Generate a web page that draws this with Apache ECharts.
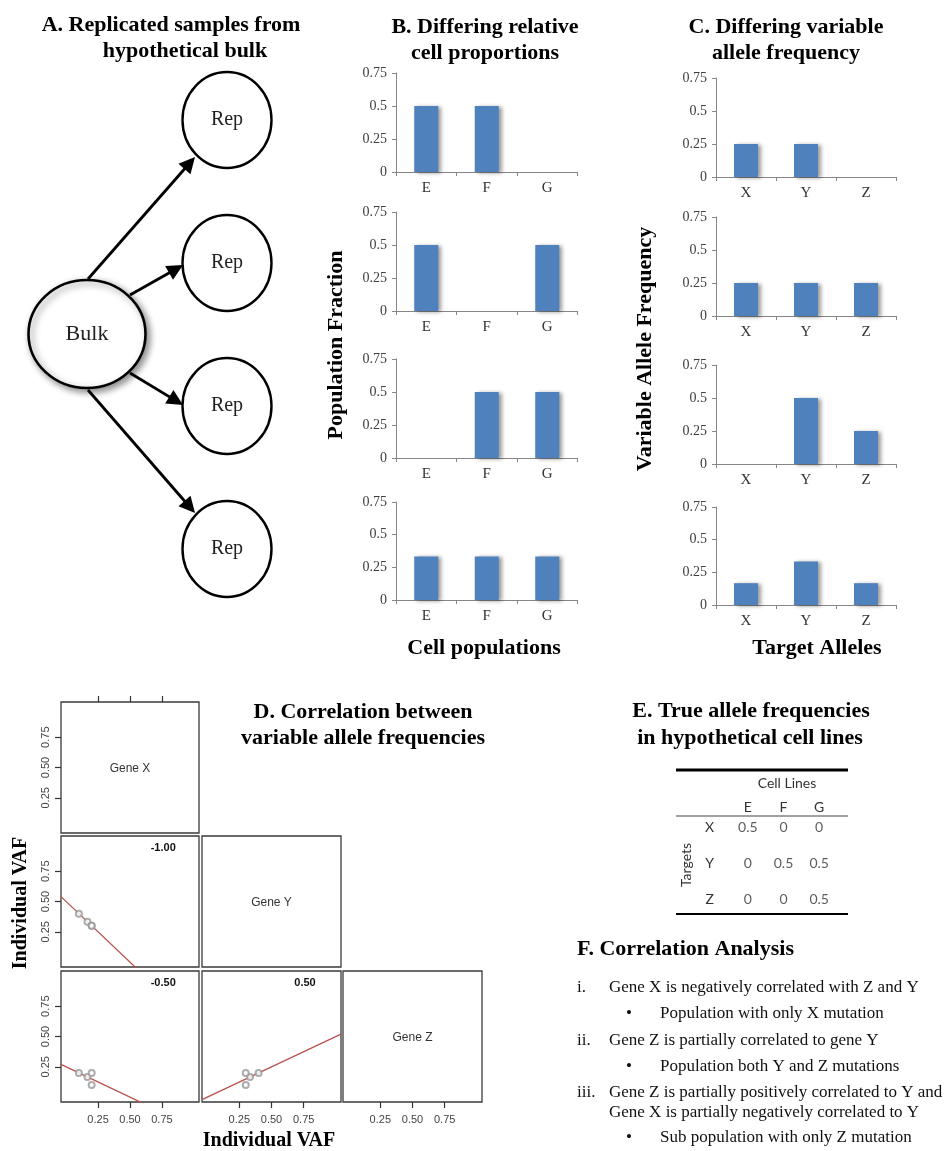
<!DOCTYPE html>
<html><head><meta charset="utf-8">
<script src="https://cdn.jsdelivr.net/npm/echarts@6/dist/echarts.min.js"></script>
<style>html,body{margin:0;padding:0;background:#fff}#c{width:950px;height:1151px}</style>
</head><body><div id="c"></div>
<script>
// ---------------- DATA ----------------
const cellPops = ['E', 'F', 'G'];
const popFractions = [
  [0.5, 0.5, 0],
  [0.5, 0, 0.5],
  [0, 0.5, 0.5],
  [0.333, 0.333, 0.333]
];
const targetAlleles = ['X', 'Y', 'Z'];
const alleleFreqs = [
  [0.25, 0.25, 0],
  [0.25, 0.25, 0.25],
  [0, 0.5, 0.25],
  [0.167, 0.333, 0.167]
];
const barTicks = [0, 0.25, 0.5, 0.75];
const vafTicks = [0.25, 0.5, 0.75];
const geneNames = ['Gene X', 'Gene Y', 'Gene Z'];
const geneX = [0.1, 0.167, 0.2, 0.2];
const geneY = [0.4, 0.333, 0.3, 0.3];
const geneZ = [0.2, 0.167, 0.2, 0.1];
const tableCols = ['E', 'F', 'G'];
const tableRows = ['X', 'Y', 'Z'];
const tableVals = [
  [0.5, 0, 0],
  [0, 0.5, 0.5],
  [0, 0, 0.5]
];
const diagramNodes = ['Bulk', 'Rep', 'Rep', 'Rep', 'Rep'];
const diagramEdges = [[0, 1], [0, 2], [0, 3], [0, 4]];
const analysisItems = [
  { level: 0, marker: 'i.', lines: ['Gene X is negatively correlated with Z and Y'] },
  { level: 1, marker: '\u2022', lines: ['Population with only X mutation'] },
  { level: 0, marker: 'ii.', lines: ['Gene Z is partially correlated to gene Y'] },
  { level: 1, marker: '\u2022', lines: ['Population both Y and Z mutations'] },
  { level: 0, marker: 'iii.', lines: ['Gene Z is partially positively correlated to Y and', 'Gene X is partially negatively correlated to Y'] },
  { level: 1, marker: '\u2022', lines: ['Sub population with only Z mutation'] }
];

// ---------------- LAYOUT ----------------
const SERIF = '"Liberation Serif","Times New Roman",serif';
const SANS = '"Liberation Sans",Arial,sans-serif';
const CAL = 'Lato,"Open Sans",sans-serif';
const BLUE = '#4F81BD';

const grids = [], xAxes = [], yAxes = [], series = [], graphics = [];

function txt(x, y, text, opt) {
  opt = opt || {};
  return {
    type: 'text', x: x, y: y, rotation: opt.rotation || 0, silent: true, z: 10,
    style: {
      text: text,
      fontFamily: opt.family || SERIF,
      fontSize: opt.size || 14,
      fontWeight: opt.weight || 'normal',
      fill: opt.color || '#000',
      textAlign: opt.align || 'center',
      align: opt.align || 'center',
      textVerticalAlign: 'middle',
      verticalAlign: 'middle'
    }
  };
}
function hline(x1, x2, y, w, color) {
  return { type: 'line', silent: true, shape: { x1: x1, y1: y, x2: x2, y2: y }, style: { stroke: color || '#000', lineWidth: w } };
}

// ---- Panel titles ----
const TS = 22;
graphics.push(txt(171, 25, 'A. Replicated samples from', { weight: 'bold', size: TS }));
graphics.push(txt(185, 51, 'hypothetical bulk', { weight: 'bold', size: TS }));
graphics.push(txt(485, 27, 'B. Differing relative', { weight: 'bold', size: TS }));
graphics.push(txt(485, 53, 'cell proportions', { weight: 'bold', size: TS }));
graphics.push(txt(786, 27, 'C. Differing variable', { weight: 'bold', size: TS }));
graphics.push(txt(786, 53, 'allele frequency', { weight: 'bold', size: TS }));
graphics.push(txt(363, 712, 'D. Correlation between', { weight: 'bold', size: TS }));
graphics.push(txt(363, 738, 'variable allele frequencies', { weight: 'bold', size: TS }));
graphics.push(txt(751, 711, 'E. True allele frequencies', { weight: 'bold', size: TS }));
graphics.push(txt(750, 738, 'in hypothetical cell lines', { weight: 'bold', size: TS }));

// ---- Panel A: diagram ----
const nodePos = [[87, 334], [227, 120], [227, 263], [227, 406], [227, 549]];
const nodeSize = [[117, 108], [89, 96], [89, 96], [89, 96], [89, 96]];
const edgeStarts = [[88, 279], [130, 295], [130, 373], [88, 390]];
const edgeTips = [[195, 157], [183, 265], [183, 405], [195, 513]];
const ARROW = 16;
const ELLIPSE = 'path://M0,50A50,50,0,1,1,100,50A50,50,0,1,1,0,50Z';
const gNodes = diagramNodes.map(function (n, i) {
  return {
    id: 'n' + i, name: n, x: nodePos[i][0], y: nodePos[i][1], symbolSize: nodeSize[i],
    itemStyle: i === 0 ? { shadowBlur: 7, shadowColor: 'rgba(0,0,0,0.45)', shadowOffsetX: 3, shadowOffsetY: 3 } : {},
    label: { show: true, fontSize: i === 0 ? 22 : 20 }
  };
});
const gLinks = [];
diagramEdges.forEach(function (e, k) {
  const s = edgeStarts[k], t = edgeTips[k];
  const dx = t[0] - s[0], dy = t[1] - s[1], len = Math.sqrt(dx * dx + dy * dy);
  const ex = t[0] - dx / len * ARROW / 2, ey = t[1] - dy / len * ARROW / 2;
  gNodes.push({ id: 'a' + k, name: 'from ' + e[0], x: s[0], y: s[1], symbolSize: 0, label: { show: false } });
  gNodes.push({ id: 'b' + k, name: 'to ' + e[1], x: ex, y: ey, symbolSize: 0, label: { show: false } });
  gLinks.push({ source: 'a' + k, target: 'b' + k });
});
series.push({
  type: 'graph', layout: 'none', left: 87, top: 120, width: 140, height: 429,
  roam: false, silent: true, animation: false,
  symbol: ELLIPSE,
  data: gNodes,
  links: gLinks,
  itemStyle: { color: '#fff', borderColor: '#000', borderWidth: 2.5 },
  label: { show: true, position: 'inside', color: '#222', fontFamily: SERIF, fontSize: 20 },
  lineStyle: { color: '#000', width: 2.8, opacity: 1, curveness: 0 },
  edgeSymbol: ['none', 'triangle'], edgeSymbolSize: [0, ARROW],
  emphasis: { disabled: true }
});

// ---- Panels B & C: bar charts ----
function addBarPanel(cats, values, left, width, top, height) {
  const gi = grids.length;
  grids.push({ left: left, top: top, width: width, height: height });
  xAxes.push({
    type: 'category', gridIndex: gi, data: cats,
    axisLine: { show: true, lineStyle: { color: '#868686', width: 1 } },
    axisTick: { show: true, length: 4, lineStyle: { color: '#868686' } },
    axisLabel: { fontFamily: SERIF, fontSize: 15, color: '#333', margin: 9 },
    splitLine: { show: false }
  });
  yAxes.push({
    type: 'value', gridIndex: gi, min: barTicks[0], max: barTicks[barTicks.length - 1], interval: barTicks[1] - barTicks[0],
    axisLine: { show: true, lineStyle: { color: '#868686', width: 1 } },
    axisTick: { show: true, length: 4, lineStyle: { color: '#868686' } },
    axisLabel: { fontFamily: SERIF, fontSize: 14, color: '#404040', margin: 9 },
    splitLine: { show: false }
  });
  series.push({
    type: 'bar', xAxisIndex: xAxes.length - 1, yAxisIndex: yAxes.length - 1,
    data: values, barWidth: 24, animation: false, silent: true,
    itemStyle: { color: BLUE, shadowColor: 'rgba(0,0,0,0.4)', shadowBlur: 4, shadowOffsetX: 3, shadowOffsetY: 1 }
  });
}
const bTops = [73, 212, 359, 502], bHeights = [99, 99, 99, 98];
const cTops = [78, 217, 365, 507], cHeights = [99, 99, 99, 98];
popFractions.forEach(function (v, i) { addBarPanel(cellPops, v, 396, 181.5, bTops[i], bHeights[i]); });
alleleFreqs.forEach(function (v, i) { addBarPanel(targetAlleles, v, 716, 180, cTops[i], cHeights[i]); });
graphics.push(txt(336, 345, 'Population Fraction', { weight: 'bold', size: 22, rotation: Math.PI / 2 }));
graphics.push(txt(645, 349, 'Variable Allele Frequency', { weight: 'bold', size: 22, rotation: Math.PI / 2 }));
graphics.push(txt(484, 648, 'Cell populations', { weight: 'bold', size: 22 }));
graphics.push(txt(817, 648, 'Target Alleles', { weight: 'bold', size: 22 }));

// ---- Panel D: scatterplot matrix ----
const genes = [geneX, geneY, geneZ];
const dCol = [{ x: 61, w: 138 }, { x: 202, w: 139 }, { x: 343, w: 139 }];
const dRow = [{ y: 702, h: 131 }, { y: 836, h: 131 }, { y: 971, h: 131 }];
const VMIN = -0.04, VMAX = 1.04;
function mean(a) { return a.reduce(function (s, v) { return s + v; }, 0) / a.length; }
function dAxis(extra) {
  return Object.assign({
    type: 'value', min: VMIN, max: VMAX,
    axisLine: { show: false, onZero: false },
    splitLine: { show: false }
  }, extra);
}
for (let r = 0; r < 3; r++) {
  for (let c = 0; c <= r; c++) {
    const gi = grids.length;
    grids.push({ left: dCol[c].x, top: dRow[r].y, width: dCol[c].w, height: dRow[r].h, show: true, borderColor: '#3a3a3a', borderWidth: 1.3, backgroundColor: 'transparent' });
    xAxes.push(dAxis({
      gridIndex: gi, position: 'bottom',
      axisTick: { show: r === 2, customValues: vafTicks, length: 6, lineStyle: { color: '#333', width: 1.2 } },
      axisLabel: { show: r === 2, customValues: vafTicks, formatter: function (v) { return v.toFixed(2); }, fontFamily: SANS, fontSize: 11, color: '#444', margin: 12 }
    }));
    const xi = xAxes.length - 1;
    yAxes.push(dAxis({
      gridIndex: gi, position: 'left',
      axisTick: { show: c === 0, customValues: vafTicks, length: 6, lineStyle: { color: '#333', width: 1.2 } },
      axisLabel: { show: c === 0, customValues: vafTicks, formatter: function (v) { return v.toFixed(2); }, fontFamily: SANS, fontSize: 11, color: '#444', margin: 10, rotate: 90 }
    }));
    const yi = yAxes.length - 1;
    if (r === 0 && c === 0) {
      xAxes.push(dAxis({
        gridIndex: gi, position: 'top',
        axisTick: { show: true, customValues: vafTicks, length: 6, lineStyle: { color: '#333', width: 1.2 } },
        axisLabel: { show: false }
      }));
    }
    if (r === c) {
      graphics.push(txt(dCol[c].x + dCol[c].w / 2, dRow[r].y + dRow[r].h / 2 + 1, geneNames[r], { family: SANS, size: 12, color: '#333' }));
    } else {
      const xs = genes[c], ys = genes[r];
      const mx = mean(xs), my = mean(ys);
      let sxy = 0, sxx = 0, syy = 0;
      for (let i = 0; i < xs.length; i++) { sxy += (xs[i] - mx) * (ys[i] - my); sxx += (xs[i] - mx) * (xs[i] - mx); syy += (ys[i] - my) * (ys[i] - my); }
      const slope = sxy / sxx, icpt = my - slope * mx;
      const corr = sxy / Math.sqrt(sxx * syy);
      series.push({
        type: 'line', xAxisIndex: xi, yAxisIndex: yi, clip: true, showSymbol: false, symbol: 'none', animation: false, silent: true,
        data: [[VMIN, icpt + slope * VMIN], [VMAX, icpt + slope * VMAX]],
        lineStyle: { color: '#B8524F', width: 1.3 }, z: 3
      });
      series.push({
        type: 'scatter', xAxisIndex: xi, yAxisIndex: yi, animation: false, silent: true,
        data: xs.map(function (v, i) { return [v, ys[i]]; }),
        symbol: 'emptyCircle', symbolSize: 6,
        itemStyle: { color: '#999', borderColor: '#999', borderWidth: 1 }, z: 4
      });
      const lx = dCol[c].x + dCol[c].w * (0.76 - VMIN) / (VMAX - VMIN);
      graphics.push(txt(lx, dRow[r].y + 12, corr.toFixed(2), { family: SANS, size: 11, weight: 'bold', color: '#111' }));
    }
  }
}
graphics.push(txt(21, 903, 'Individual VAF', { weight: 'bold', size: 20, rotation: Math.PI / 2 }));
graphics.push(txt(269, 1141, 'Individual VAF', { weight: 'bold', size: 20 }));

// ---- Panel E: table ----
{
  const gi = grids.length;
  grids.push({ left: 730, top: 810, width: 107, height: 107 });
  xAxes.push({
    type: 'category', gridIndex: gi, data: tableCols, position: 'top',
    axisLine: { show: false }, axisTick: { show: false }, splitLine: { show: false },
    axisLabel: { fontFamily: CAL, fontSize: 14, color: '#333', margin: -4 }
  });
  yAxes.push({
    type: 'category', gridIndex: gi, data: tableRows, inverse: true,
    axisLine: { show: false }, axisTick: { show: false }, splitLine: { show: false },
    axisLabel: { fontFamily: CAL, fontSize: 14, color: '#333', margin: 16 }
  });
  const cells = [];
  tableVals.forEach(function (row, ri) { row.forEach(function (v, ci) { cells.push([ci, ri, v]); }); });
  series.push({
    type: 'scatter', xAxisIndex: xAxes.length - 1, yAxisIndex: yAxes.length - 1, animation: false, silent: true,
    data: cells, symbolSize: 1, itemStyle: { color: 'transparent' },
    label: { show: true, position: 'inside', formatter: function (p) { return String(p.value[2]); }, fontFamily: CAL, fontSize: 14, color: '#333' }
  });
  graphics.push(hline(676, 848, 770, 3, '#000'));
  graphics.push(hline(676, 848, 816, 1, '#444'));
  graphics.push(hline(676, 848, 914, 2, '#000'));
  graphics.push(txt(787, 783, 'Cell Lines', { family: CAL, size: 14, color: '#333' }));
  graphics.push(txt(686, 865, 'Targets', { family: CAL, size: 14, color: '#333', rotation: Math.PI / 2 }));
}

// ---- Panel F: text ----
graphics.push(txt(577, 949, 'F. Correlation Analysis', { weight: 'bold', size: TS, align: 'left' }));
const analysisY = [[988], [1014], [1041], [1067], [1093, 1113], [1138]];
analysisItems.forEach(function (it, i) {
  const mx = it.level === 0 ? 577 : 626;
  const tx = it.level === 0 ? 609 : 660;
  graphics.push(txt(mx, analysisY[i][0], it.marker, { size: 17, align: 'left', color: '#111' }));
  it.lines.forEach(function (l, j) {
    graphics.push(txt(tx, analysisY[i][j], l, { size: 17, align: 'left', color: '#111' }));
  });
});

const chart = echarts.init(document.getElementById('c'), null, { renderer: 'canvas', width: 950, height: 1151 });
chart.setOption({
  backgroundColor: '#fff',
  animation: false,
  grid: grids, xAxis: xAxes, yAxis: yAxes, series: series,
  graphic: { elements: graphics }
});
</script></body></html>
